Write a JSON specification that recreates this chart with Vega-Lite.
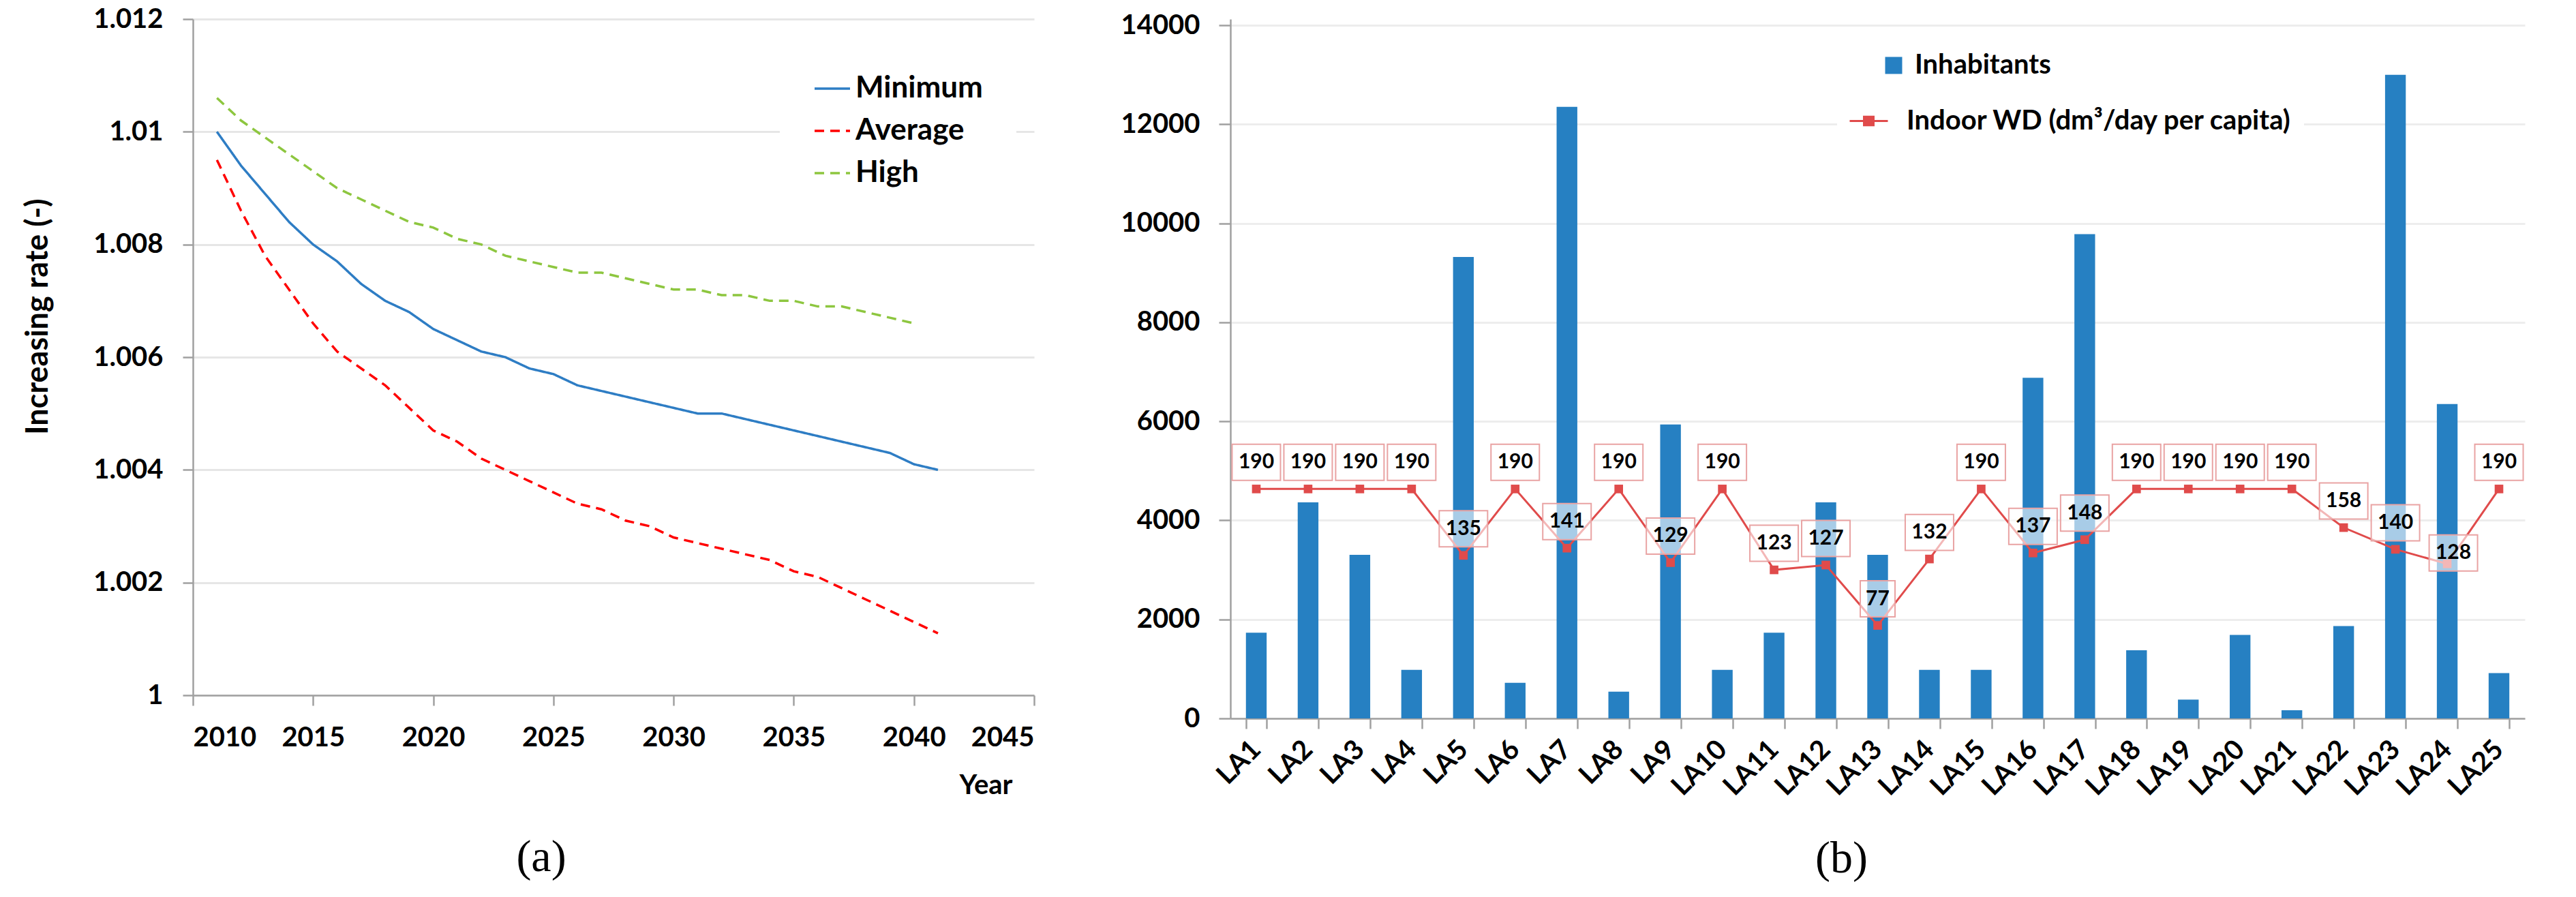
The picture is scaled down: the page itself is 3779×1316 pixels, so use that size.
{
  "$schema": "https://vega.github.io/schema/vega-lite/v6.json",
  "background": "white",
  "padding": {"left": 33, "top": 8, "right": 5, "bottom": 5},
  "spacing": 125,
  "resolve": {
    "scale": {"color": "independent", "strokeDash": "independent", "fill": "independent", "stroke": "independent"},
    "legend": {"color": "independent", "strokeDash": "independent", "fill": "independent", "stroke": "independent"}
  },
  "config": {
    "font": "Lato",
    "view": {"stroke": null},
    "axis": {
      "labelFont": "Lato", "labelFontWeight": "bold", "labelFontSize": 40, "labelColor": "black",
      "titleFont": "Lato", "titleFontWeight": "bold", "titleColor": "black",
      "domainColor": "#A0A0A0", "domainWidth": 2.5, "tickColor": "#A0A0A0", "tickWidth": 2.5, "tickSize": 15,
      "gridColor": "#E6E6E6", "gridWidth": 3
    },
    "legend": {"labelFont": "Lato", "labelFontWeight": "bold", "labelColor": "black", "labelLimit": 0}
  },
  "hconcat": [
    {
      "width": 1234,
      "height": 992,
      "title": {"text": "(a)", "orient": "bottom", "anchor": "middle", "dx": -106, "offset": 54, "font": "Liberation Serif", "fontSize": 66, "fontWeight": "normal", "color": "black"},
      "data": {"values": [
        {"year": 2011, "series": "Minimum", "rate": 1.0100}, {"year": 2012, "series": "Minimum", "rate": 1.0094}, {"year": 2013, "series": "Minimum", "rate": 1.0089}, {"year": 2014, "series": "Minimum", "rate": 1.0084}, {"year": 2015, "series": "Minimum", "rate": 1.0080}, {"year": 2016, "series": "Minimum", "rate": 1.0077}, {"year": 2017, "series": "Minimum", "rate": 1.0073}, {"year": 2018, "series": "Minimum", "rate": 1.0070}, {"year": 2019, "series": "Minimum", "rate": 1.0068}, {"year": 2020, "series": "Minimum", "rate": 1.0065}, {"year": 2021, "series": "Minimum", "rate": 1.0063}, {"year": 2022, "series": "Minimum", "rate": 1.0061}, {"year": 2023, "series": "Minimum", "rate": 1.0060}, {"year": 2024, "series": "Minimum", "rate": 1.0058}, {"year": 2025, "series": "Minimum", "rate": 1.0057}, {"year": 2026, "series": "Minimum", "rate": 1.0055}, {"year": 2027, "series": "Minimum", "rate": 1.0054}, {"year": 2028, "series": "Minimum", "rate": 1.0053}, {"year": 2029, "series": "Minimum", "rate": 1.0052}, {"year": 2030, "series": "Minimum", "rate": 1.0051}, {"year": 2031, "series": "Minimum", "rate": 1.0050}, {"year": 2032, "series": "Minimum", "rate": 1.0050}, {"year": 2033, "series": "Minimum", "rate": 1.0049}, {"year": 2034, "series": "Minimum", "rate": 1.0048}, {"year": 2035, "series": "Minimum", "rate": 1.0047}, {"year": 2036, "series": "Minimum", "rate": 1.0046}, {"year": 2037, "series": "Minimum", "rate": 1.0045}, {"year": 2038, "series": "Minimum", "rate": 1.0044}, {"year": 2039, "series": "Minimum", "rate": 1.0043}, {"year": 2040, "series": "Minimum", "rate": 1.0041}, {"year": 2041, "series": "Minimum", "rate": 1.0040},
        {"year": 2011, "series": "Average", "rate": 1.0095}, {"year": 2012, "series": "Average", "rate": 1.0086}, {"year": 2013, "series": "Average", "rate": 1.0078}, {"year": 2014, "series": "Average", "rate": 1.0072}, {"year": 2015, "series": "Average", "rate": 1.0066}, {"year": 2016, "series": "Average", "rate": 1.0061}, {"year": 2017, "series": "Average", "rate": 1.0058}, {"year": 2018, "series": "Average", "rate": 1.0055}, {"year": 2019, "series": "Average", "rate": 1.0051}, {"year": 2020, "series": "Average", "rate": 1.0047}, {"year": 2021, "series": "Average", "rate": 1.0045}, {"year": 2022, "series": "Average", "rate": 1.0042}, {"year": 2023, "series": "Average", "rate": 1.0040}, {"year": 2024, "series": "Average", "rate": 1.0038}, {"year": 2025, "series": "Average", "rate": 1.0036}, {"year": 2026, "series": "Average", "rate": 1.0034}, {"year": 2027, "series": "Average", "rate": 1.0033}, {"year": 2028, "series": "Average", "rate": 1.0031}, {"year": 2029, "series": "Average", "rate": 1.0030}, {"year": 2030, "series": "Average", "rate": 1.0028}, {"year": 2031, "series": "Average", "rate": 1.0027}, {"year": 2032, "series": "Average", "rate": 1.0026}, {"year": 2033, "series": "Average", "rate": 1.0025}, {"year": 2034, "series": "Average", "rate": 1.0024}, {"year": 2035, "series": "Average", "rate": 1.0022}, {"year": 2036, "series": "Average", "rate": 1.0021}, {"year": 2037, "series": "Average", "rate": 1.0019}, {"year": 2038, "series": "Average", "rate": 1.0017}, {"year": 2039, "series": "Average", "rate": 1.0015}, {"year": 2040, "series": "Average", "rate": 1.0013}, {"year": 2041, "series": "Average", "rate": 1.0011},
        {"year": 2011, "series": "High", "rate": 1.0106}, {"year": 2012, "series": "High", "rate": 1.0102}, {"year": 2013, "series": "High", "rate": 1.0099}, {"year": 2014, "series": "High", "rate": 1.0096}, {"year": 2015, "series": "High", "rate": 1.0093}, {"year": 2016, "series": "High", "rate": 1.0090}, {"year": 2017, "series": "High", "rate": 1.0088}, {"year": 2018, "series": "High", "rate": 1.0086}, {"year": 2019, "series": "High", "rate": 1.0084}, {"year": 2020, "series": "High", "rate": 1.0083}, {"year": 2021, "series": "High", "rate": 1.0081}, {"year": 2022, "series": "High", "rate": 1.0080}, {"year": 2023, "series": "High", "rate": 1.0078}, {"year": 2024, "series": "High", "rate": 1.0077}, {"year": 2025, "series": "High", "rate": 1.0076}, {"year": 2026, "series": "High", "rate": 1.0075}, {"year": 2027, "series": "High", "rate": 1.0075}, {"year": 2028, "series": "High", "rate": 1.0074}, {"year": 2029, "series": "High", "rate": 1.0073}, {"year": 2030, "series": "High", "rate": 1.0072}, {"year": 2031, "series": "High", "rate": 1.0072}, {"year": 2032, "series": "High", "rate": 1.0071}, {"year": 2033, "series": "High", "rate": 1.0071}, {"year": 2034, "series": "High", "rate": 1.0070}, {"year": 2035, "series": "High", "rate": 1.0070}, {"year": 2036, "series": "High", "rate": 1.0069}, {"year": 2037, "series": "High", "rate": 1.0069}, {"year": 2038, "series": "High", "rate": 1.0068}, {"year": 2039, "series": "High", "rate": 1.0067}, {"year": 2040, "series": "High", "rate": 1.0066}
      ]},
      "mark": {"type": "line", "strokeWidth": 3.5},
      "encoding": {
        "x": {"field": "year", "type": "quantitative",
          "scale": {"domain": [2010, 2045], "nice": false, "zero": false},
          "axis": {"values": [2010, 2015, 2020, 2025, 2030, 2035, 2040, 2045], "format": "d", "grid": false, "labelPadding": 27,
            "title": "Year", "titleFontSize": 40, "titleX": 1163, "titleY": 132, "titleAlign": "center", "titleBaseline": "middle"}},
        "y": {"field": "rate", "type": "quantitative",
          "scale": {"domain": [1, 1.012], "nice": false, "zero": false},
          "axis": {"values": [1, 1.002, 1.004, 1.006, 1.008, 1.01, 1.012], "format": ".3~f", "labelPadding": 29,
            "title": "Increasing rate (-)", "titleFontSize": 45, "titleX": -228, "titleY": 436, "titleAngle": -90, "titleAlign": "center", "titleBaseline": "middle"}},
        "color": {"field": "series", "type": "nominal",
          "scale": {"domain": ["Minimum", "Average", "High"], "range": ["#2E7DC4", "#FF0000", "#8DC63F"]},
          "legend": {"title": null, "orient": "none", "legendX": 861, "legendY": 25, "padding": 49, "fillColor": "white",
            "symbolType": "stroke", "symbolSize": 2704, "symbolStrokeWidth": 3.5, "labelFontSize": 44, "labelOffset": 6, "rowPadding": 12}},
        "strokeDash": {"field": "series", "type": "nominal",
          "scale": {"domain": ["Minimum", "Average", "High"], "range": [[1, 0], [14, 9], [14, 9]]},
          "legend": {"title": null, "orient": "none", "legendX": 861, "legendY": 25, "padding": 49, "fillColor": "white",
            "symbolType": "stroke", "symbolSize": 2704, "symbolStrokeWidth": 3.5, "labelFontSize": 44, "labelOffset": 6, "rowPadding": 12}}
      }
    },
    {
      "width": 1899,
      "height": 1026,
      "data": {"values": [
        {"la": "LA1", "inhabitants": 1730, "wd": 190}, {"la": "LA2", "inhabitants": 4365, "wd": 190}, {"la": "LA3", "inhabitants": 3305, "wd": 190}, {"la": "LA4", "inhabitants": 980, "wd": 190}, {"la": "LA5", "inhabitants": 9320, "wd": 135},
        {"la": "LA6", "inhabitants": 720, "wd": 190}, {"la": "LA7", "inhabitants": 12350, "wd": 141}, {"la": "LA8", "inhabitants": 540, "wd": 190}, {"la": "LA9", "inhabitants": 5935, "wd": 129}, {"la": "LA10", "inhabitants": 980, "wd": 190},
        {"la": "LA11", "inhabitants": 1730, "wd": 123}, {"la": "LA12", "inhabitants": 4365, "wd": 127}, {"la": "LA13", "inhabitants": 3305, "wd": 77}, {"la": "LA14", "inhabitants": 980, "wd": 132}, {"la": "LA15", "inhabitants": 980, "wd": 190},
        {"la": "LA16", "inhabitants": 6880, "wd": 137}, {"la": "LA17", "inhabitants": 9780, "wd": 148}, {"la": "LA18", "inhabitants": 1375, "wd": 190}, {"la": "LA19", "inhabitants": 380, "wd": 190}, {"la": "LA20", "inhabitants": 1685, "wd": 190},
        {"la": "LA21", "inhabitants": 165, "wd": 190}, {"la": "LA22", "inhabitants": 1865, "wd": 158}, {"la": "LA23", "inhabitants": 13000, "wd": 140}, {"la": "LA24", "inhabitants": 6350, "wd": 128}, {"la": "LA25", "inhabitants": 915, "wd": 190}
      ]},
      "encoding": {
        "x": {"field": "la", "type": "ordinal", "sort": null,
          "scale": {"paddingInner": 0.6, "paddingOuter": 0.3},
          "axis": {"title": "(b)", "titleFont": "Liberation Serif", "titleFontWeight": "normal", "titleFontSize": 66, "titleX": 896, "titleY": 205, "titleAlign": "center", "titleBaseline": "middle",
            "labelAngle": -45, "labelAlign": "right", "labelBaseline": "middle", "labelPadding": 24, "tickBand": "extent", "grid": false}}
      },
      "layer": [
        {
          "mark": {"type": "bar"},
          "encoding": {
            "y": {"field": "inhabitants", "type": "quantitative", "scale": {"domain": [0, 14123.9], "nice": false},
              "axis": {"values": [0, 2000, 4000, 6000, 8000, 10000, 12000, 14000], "format": "d", "title": null, "tickSize": 17, "labelPadding": 28, "gridColor": "#EDEDED"}},
            "fill": {"datum": "Inhabitants", "type": "nominal", "scale": {"range": ["#2680C2"]},
              "legend": {"title": null, "orient": "none", "legendX": 953, "legendY": 48, "padding": 0, "symbolType": "square", "symbolSize": 625, "symbolStrokeWidth": 0, "labelFontSize": 40, "labelOffset": 11}}
          }
        },
        {
          "encoding": {
            "y": {"field": "wd", "type": "quantitative", "scale": {"domain": [0, 579.08], "nice": false}, "axis": null}
          },
          "layer": [
            {
              "mark": {"type": "line", "strokeWidth": 3},
              "encoding": {
                "stroke": {"datum": "Indoor WD (dm³/day per capita)", "type": "nominal", "scale": {"range": ["#E04B4B"]},
                  "legend": {"title": null, "orient": "none", "legendX": 890, "legendY": 103, "padding": 17, "fillColor": "white",
                    "symbolType": "M-1,0H1M-0.25,-0.22H0.25V0.22H-0.25Z", "symbolSize": 3136, "symbolStrokeWidth": 3, "labelFontSize": 40, "labelOffset": 26,
                    "encode": {"symbols": {"update": {"fill": {"value": "#E04B4B"}, "stroke": {"value": "#E04B4B"}}}}}}
              }
            },
            {
              "mark": {"type": "point", "shape": "square", "filled": true, "size": 160, "color": "#E04B4B", "opacity": 1}
            },
            {
              "transform": [{"filter": "datum.la !== 'LA24' && datum.wd >= 100"}],
              "mark": {"type": "point", "shape": "M-1,-1.845H1V-0.353H-1Z", "size": 5041, "filled": true, "fill": "white", "fillOpacity": 0.6, "stroke": "#E9A3A3", "strokeWidth": 2, "strokeOpacity": 1, "opacity": 1}
            },
            {
              "transform": [{"filter": "datum.wd < 100"}],
              "mark": {"type": "point", "shape": "M-0.718,-1.845H0.718V-0.353H-0.718Z", "size": 5041, "filled": true, "fill": "white", "fillOpacity": 0.6, "stroke": "#E9A3A3", "strokeWidth": 2, "strokeOpacity": 1, "opacity": 1}
            },
            {
              "transform": [{"filter": "datum.la === 'LA24'"}],
              "mark": {"type": "point", "shape": "M-0.746,-1.197H1.254V0.295H-0.746Z", "size": 5041, "filled": true, "fill": "white", "fillOpacity": 0.6, "stroke": "#E9A3A3", "strokeWidth": 2, "strokeOpacity": 1, "opacity": 1}
            },
            {
              "transform": [{"filter": "datum.la !== 'LA24'"}],
              "mark": {"type": "text", "font": "Lato", "fontWeight": "bold", "fontSize": 30, "color": "black", "dy": -39, "baseline": "middle", "align": "center"},
              "encoding": {"text": {"field": "wd", "type": "quantitative"}}
            },
            {
              "transform": [{"filter": "datum.la === 'LA24'"}],
              "mark": {"type": "text", "font": "Lato", "fontWeight": "bold", "fontSize": 30, "color": "black", "dy": -16, "dx": 9, "baseline": "middle", "align": "center"},
              "encoding": {"text": {"field": "wd", "type": "quantitative"}}
            }
          ]
        }
      ],
      "resolve": {"scale": {"y": "independent"}}
    }
  ]
}
